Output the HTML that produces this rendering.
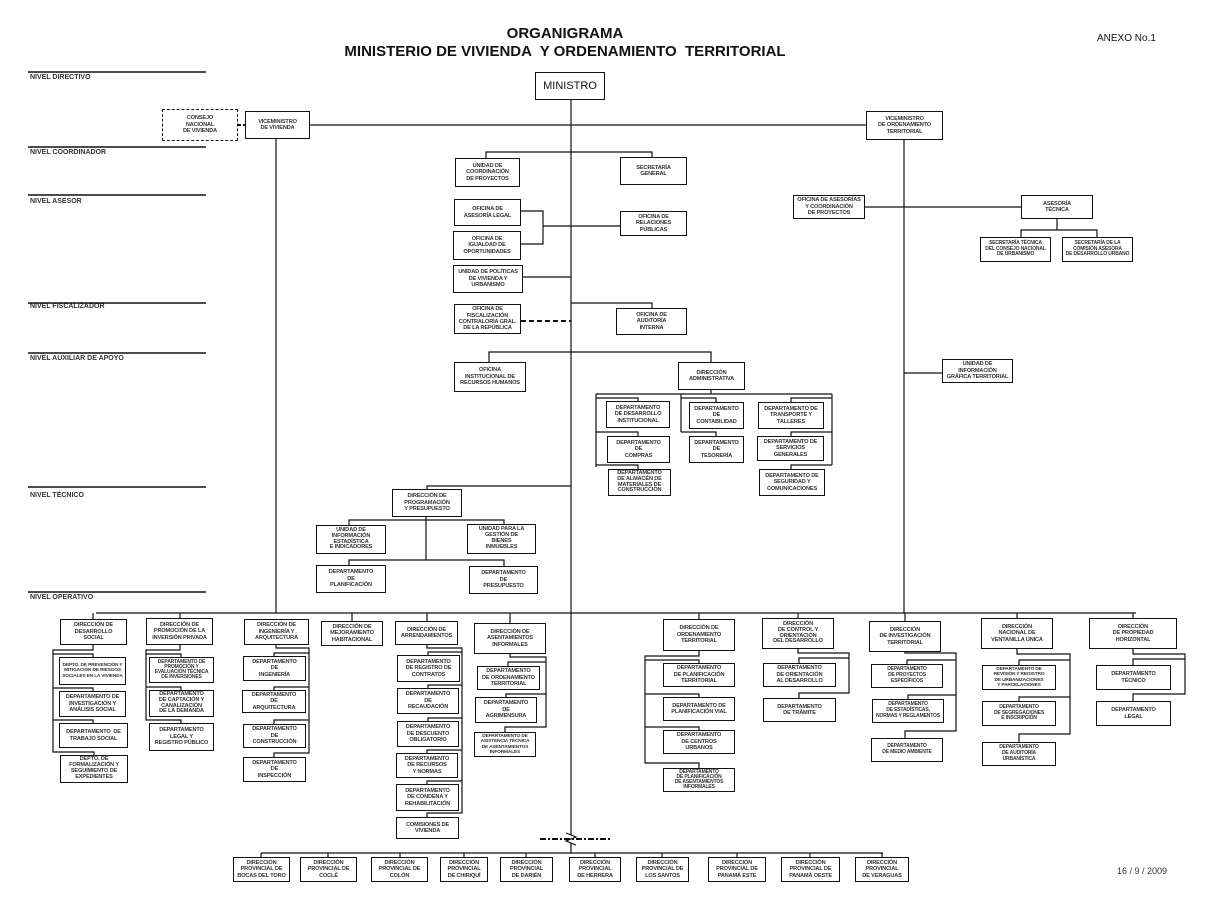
<!DOCTYPE html>
<html><head><meta charset="utf-8">
<style>
body{margin:0;width:1217px;height:904px;background:#fff;position:relative;overflow:hidden;font-family:"Liberation Sans",Arial,sans-serif;}
.b{position:absolute;box-sizing:border-box;border:1.3px solid #111;background:#fff;display:flex;align-items:center;justify-content:center;text-align:center;font-size:5.6px;line-height:1.15;color:#333;font-weight:bold;padding:0;z-index:2;letter-spacing:-0.15px;white-space:nowrap}
.d{border-style:dashed}
.t{position:absolute;font-weight:bold;color:#111}
.n{position:absolute;left:30px;font-size:7px;color:#333;font-weight:bold}
svg{position:absolute;left:0;top:0;z-index:1}
</style></head><body>
<div class="t" style="left:0;width:1130px;text-align:center;top:25px;font-size:15px">ORGANIGRAMA</div>
<div class="t" style="left:0;width:1130px;text-align:center;top:43px;font-size:15px">MINISTERIO DE VIVIENDA &nbsp;Y ORDENAMIENTO &nbsp;TERRITORIAL</div>
<div class="t" style="left:1097px;top:33px;font-size:10px;font-weight:normal">ANEXO No.1</div>
<div class="t" style="left:1117px;top:866px;font-size:9px;font-weight:normal;color:#333">16 / 9 / 2009</div>

<div class="n" style="top:74px">NIVEL DIRECTIVO</div>
<div class="n" style="top:149px">NIVEL COORDINADOR</div>
<div class="n" style="top:198px">NIVEL ASESOR</div>
<div class="n" style="top:303px">NIVEL FISCALIZADOR</div>
<div class="n" style="top:355px">NIVEL AUXILIAR DE APOYO</div>
<div class="n" style="top:492px">NIVEL TÉCNICO</div>
<div class="n" style="top:594px">NIVEL OPERATIVO</div>

<svg width="1217" height="904" fill="none" stroke="#111" stroke-width="1.2">
<path stroke-width="1.6" d="M28 72H206 M28 147H206 M28 195H206 M28 303H206 M28 353H206 M28 487H206 M28 592H206"/>
<path d="M571 99V853 M310 125H866 M276 139V613 M904 140V613"/>
<path stroke-width="2" stroke-dasharray="3,2" d="M238 125H245"/>
<path d="M486 158V152H652V157 M521 211H543V244H521 M543 226H620 M523 277H571 M571 303H652V308 M865 207H1021 M1057 219V230 M1021 237V230H1097V237 M904 373H942"/>
<path stroke-width="2" stroke-dasharray="5,3" d="M521 321H571"/>
<path d="M489 362V352H711V362 M711 390V394 M596 394H832 M596 394V467 M596 398H638V401 M596 432H638V436 M596 465H638V469 M681 394V432 M681 398H716V402 M681 432H716V436 M832 394V465 M832 398H791V402 M832 432H791V436 M832 465H791V469"/>
<path d="M427 489V486H571 M426 517V560 M349 525V520H504V524 M349 565V560H504V566"/>
<path d="M96 613H1136 M93 613V619 M180 613V618 M352 613V621 M427 613V621 M510 613V623 M699 613V619 M798 613V618 M905 613V621 M1017 613V618 M1133 613V618"/>
<path d="M93 645V650H53V752H94V755 M53 654H93V657 M53 688H93V691 M53 720H93V723"/>
<path d="M180 645V650H146V720H181V723 M146 654H181V657 M146 687H181V690"/>
<path d="M276 645V648H309V753H274V757 M309 653H274V656 M309 687H274V690 M309 720H274V724"/>
<path d="M427 645V648H462V813H427V817 M462 652H428V655 M462 685H428V688 M462 718H428V721 M462 750H427V753 M462 781H427V784"/>
<path d="M510 654V657H546V727H505V732 M546 662H508V666 M546 694H506V697"/>
<path d="M699 651V656H645V763H699V768 M645 660H699V663 M645 694H699V697 M645 727H699V730"/>
<path d="M798 649V653H849V693H799V698 M849 658H799V663"/>
<path d="M905 652V653H956V731H905V738 M956 660H907V664 M956 695H908V699"/>
<path d="M1017 649V654H1070V734H1019V742 M1070 660H1019V665 M1070 697H1019V701"/>
<path d="M1133 649V654H1185V694H1133V701 M1185 659H1133V665"/>
<path d="M261 853H883 M261 853V857 M328 853V857 M400 853V857 M464 853V857 M526 853V857 M595 853V857 M662 853V857 M737 853V857 M810 853V857 M882 853V857"/>
<path stroke-width="2" stroke-dasharray="6,2,2,2" d="M540 839H612"/>
<path fill="#fff" d="M566 833L576 837L566 841L576 845"/>
</svg>

<div class="b" style="left:535px;top:72px;width:70px;height:28px;font-size:11px;font-weight:normal;color:#111;letter-spacing:0">MINISTRO</div>
<div class="b d" style="left:162px;top:109px;width:76px;height:32px">CONSEJO<br>NACIONAL<br>DE VIVIENDA</div>
<div class="b" style="left:245px;top:111px;width:65px;height:28px">VICEMINISTRO<br>DE VIVIENDA</div>
<div class="b" style="left:866px;top:111px;width:77px;height:29px">VICEMINISTRO<br>DE ORDENAMIENTO<br>TERRITORIAL</div>

<div class="b" style="left:455px;top:158px;width:65px;height:29px">UNIDAD DE<br>COORDINACIÓN<br>DE PROYECTOS</div>
<div class="b" style="left:620px;top:157px;width:67px;height:28px">SECRETARÍA<br>GENERAL</div>
<div class="b" style="left:454px;top:199px;width:67px;height:27px">OFICINA DE<br>ASESORÍA LEGAL</div>
<div class="b" style="left:453px;top:231px;width:68px;height:29px">OFICINA DE<br>IGUALDAD DE<br>OPORTUNIDADES</div>
<div class="b" style="left:620px;top:211px;width:67px;height:25px">OFICINA DE<br>RELACIONES<br>PÚBLICAS</div>
<div class="b" style="left:453px;top:265px;width:70px;height:28px">UNIDAD DE POLÍTICAS<br>DE VIVIENDA Y<br>URBANISMO</div>
<div class="b" style="left:454px;top:304px;width:67px;height:30px">OFICINA DE<br>FISCALIZACIÓN<br>CONTRALORÍA GRAL.<br>DE LA REPÚBLICA</div>
<div class="b" style="left:616px;top:308px;width:71px;height:27px">OFICINA DE<br>AUDITORÍA<br>INTERNA</div>

<div class="b" style="left:793px;top:195px;width:72px;height:24px">OFICINA DE ASESORÍAS<br>Y COORDINACIÓN<br>DE PROYECTOS</div>
<div class="b" style="left:1021px;top:195px;width:72px;height:24px">ASESORÍA<br>TÉCNICA</div>
<div class="b" style="left:980px;top:237px;width:71px;height:25px;font-size:5px">SECRETARÍA TÉCNICA<br>DEL CONSEJO NACIONAL<br>DE URBANISMO</div>
<div class="b" style="left:1062px;top:237px;width:71px;height:25px;font-size:5px">SECRETARÍA DE LA<br>COMISIÓN ASESORA<br>DE DESARROLLO URBANO</div>
<div class="b" style="left:942px;top:359px;width:71px;height:24px">UNIDAD DE<br>INFORMACIÓN<br>GRÁFICA TERRITORIAL</div>

<div class="b" style="left:454px;top:362px;width:72px;height:30px">OFICINA<br>INSTITUCIONAL DE<br>RECURSOS HUMANOS</div>
<div class="b" style="left:678px;top:362px;width:67px;height:28px">DIRECCIÓN<br>ADMINISTRATIVA</div>
<div class="b" style="left:606px;top:401px;width:64px;height:27px">DEPARTAMENTO<br>DE DESARROLLO<br>INSTITUCIONAL</div>
<div class="b" style="left:607px;top:436px;width:63px;height:27px">DEPARTAMENTO<br>DE<br>COMPRAS</div>
<div class="b" style="left:608px;top:469px;width:63px;height:27px;line-height:1.05">DEPARTAMENTO<br>DE ALMACÉN DE<br>MATERIALES DE<br>CONSTRUCCIÓN</div>
<div class="b" style="left:689px;top:402px;width:55px;height:27px">DEPARTAMENTO<br>DE<br>CONTABILIDAD</div>
<div class="b" style="left:689px;top:436px;width:55px;height:27px">DEPARTAMENTO<br>DE<br>TESORERÍA</div>
<div class="b" style="left:758px;top:402px;width:66px;height:27px">DEPARTAMENTO DE<br>TRANSPORTE Y<br>TALLERES</div>
<div class="b" style="left:757px;top:436px;width:67px;height:25px">DEPARTAMENTO DE<br>SERVICIOS<br>GENERALES</div>
<div class="b" style="left:759px;top:469px;width:66px;height:27px">DEPARTAMENTO DE<br>SEGURIDAD Y<br>COMUNICACIONES</div>

<div class="b" style="left:392px;top:489px;width:70px;height:28px">DIRECCIÓN DE<br>PROGRAMACIÓN<br>Y PRESUPUESTO</div>
<div class="b" style="left:316px;top:525px;width:70px;height:29px;line-height:1.05">UNIDAD DE<br>INFORMACIÓN<br>ESTADÍSTICA<br>E INDICADORES</div>
<div class="b" style="left:467px;top:524px;width:69px;height:30px;line-height:1.05">UNIDAD PARA LA<br>GESTIÓN DE<br>BIENES<br>INMUEBLES</div>
<div class="b" style="left:316px;top:565px;width:70px;height:28px">DEPARTAMENTO<br>DE<br>PLANIFICACIÓN</div>
<div class="b" style="left:469px;top:566px;width:69px;height:28px">DEPARTAMENTO<br>DE<br>PRESUPUESTO</div>

<div class="b" style="left:60px;top:619px;width:67px;height:26px">DIRECCIÓN DE<br>DESARROLLO<br>SOCIAL</div>
<div class="b" style="left:146px;top:618px;width:67px;height:27px">DIRECCIÓN DE<br>PROMOCIÓN DE LA<br>INVERSIÓN PRIVADA</div>
<div class="b" style="left:244px;top:619px;width:65px;height:26px">DIRECCIÓN DE<br>INGENIERÍA Y<br>ARQUITECTURA</div>
<div class="b" style="left:321px;top:621px;width:62px;height:25px">DIRECCIÓN DE<br>MEJORAMIENTO<br>HABITACIONAL</div>
<div class="b" style="left:395px;top:621px;width:63px;height:24px">DIRECCIÓN DE<br>ARRENDAMIENTOS</div>
<div class="b" style="left:474px;top:623px;width:72px;height:31px">DIRECCIÓN DE<br>ASENTAMIENTOS<br>INFORMALES</div>

<div class="b" style="left:59px;top:657px;width:67px;height:28px;font-size:4.8px">DEPTO. DE PREVENCIÓN Y<br>MITIGACIÓN DE RIESGOS<br>SOCIALES EN LA VIVIENDA</div>
<div class="b" style="left:59px;top:691px;width:67px;height:26px">DEPARTAMENTO DE<br>INVESTIGACIÓN Y<br>ANÁLISIS SOCIAL</div>
<div class="b" style="left:59px;top:723px;width:69px;height:25px">DEPARTAMENTO &nbsp;DE<br>TRABAJO SOCIAL</div>
<div class="b" style="left:60px;top:755px;width:68px;height:28px;line-height:1.05">DEPTO. DE<br>FORMALIZACIÓN Y<br>SEGUIMIENTO DE<br>EXPEDIENTES</div>

<div class="b" style="left:149px;top:657px;width:65px;height:26px;font-size:5px;line-height:1.05">DEPARTAMENTO DE<br>PROMOCIÓN Y<br>EVALUACIÓN TÉCNICA<br>DE INVERSIONES</div>
<div class="b" style="left:149px;top:690px;width:65px;height:27px;line-height:1.05">DEPARTAMENTO<br>DE CAPTACIÓN Y<br>CANALIZACIÓN<br>DE LA DEMANDA</div>
<div class="b" style="left:149px;top:723px;width:65px;height:28px">DEPARTAMENTO<br>LEGAL Y<br>REGISTRO PÚBLICO</div>

<div class="b" style="left:243px;top:656px;width:63px;height:25px">DEPARTAMENTO<br>DE<br>INGENIERÍA</div>
<div class="b" style="left:242px;top:690px;width:64px;height:23px">DEPARTAMENTO<br>DE<br>ARQUITECTURA</div>
<div class="b" style="left:243px;top:724px;width:63px;height:24px">DEPARTAMENTO<br>DE<br>CONSTRUCCIÓN</div>
<div class="b" style="left:243px;top:757px;width:63px;height:25px">DEPARTAMENTO<br>DE<br>INSPECCIÓN</div>

<div class="b" style="left:397px;top:655px;width:63px;height:27px">DEPARTAMENTO<br>DE REGISTRO DE<br>CONTRATOS</div>
<div class="b" style="left:397px;top:688px;width:62px;height:26px">DEPARTAMENTO<br>DE<br>RECAUDACIÓN</div>
<div class="b" style="left:397px;top:721px;width:62px;height:26px">DEPARTAMENTO<br>DE DESCUENTO<br>OBLIGATORIO</div>
<div class="b" style="left:396px;top:753px;width:62px;height:25px">DEPARTAMENTO<br>DE RECURSOS<br>Y NORMAS</div>
<div class="b" style="left:396px;top:784px;width:63px;height:27px">DEPARTAMENTO<br>DE CONDENA Y<br>REHABILITACIÓN</div>
<div class="b" style="left:396px;top:817px;width:63px;height:22px">COMISIONES DE<br>VIVIENDA</div>

<div class="b" style="left:477px;top:666px;width:63px;height:24px">DEPARTAMENTO<br>DE ORDENAMIENTO<br>TERRITORIAL</div>
<div class="b" style="left:475px;top:697px;width:62px;height:26px">DEPARTAMENTO<br>DE<br>AGRIMENSURA</div>
<div class="b" style="left:474px;top:732px;width:62px;height:25px;font-size:4.8px;line-height:1.05">DEPARTAMENTO DE<br>ASISTENCIA TÉCNICA<br>DE ASENTAMIENTOS<br>INFORMALES</div>

<div class="b" style="left:663px;top:619px;width:72px;height:32px">DIRECCIÓN DE<br>ORDENAMIENTO<br>TERRITORIAL</div>
<div class="b" style="left:762px;top:618px;width:72px;height:31px;line-height:1.05">DIRECCIÓN<br>DE CONTROL Y<br>ORIENTACIÓN<br>DEL DESARROLLO</div>
<div class="b" style="left:869px;top:621px;width:72px;height:31px">DIRECCIÓN<br>DE INVESTIGACIÓN<br>TERRITORIAL</div>
<div class="b" style="left:981px;top:618px;width:72px;height:31px">DIRECCIÓN<br>NACIONAL DE<br>VENTANILLA ÚNICA</div>
<div class="b" style="left:1089px;top:618px;width:88px;height:31px">DIRECCIÓN<br>DE PROPIEDAD<br>HORIZONTAL</div>

<div class="b" style="left:663px;top:663px;width:72px;height:24px">DEPARTAMENTO<br>DE PLANIFICACIÓN<br>TERRITORIAL</div>
<div class="b" style="left:663px;top:697px;width:72px;height:24px">DEPARTAMENTO DE<br>PLANIFICACIÓN VIAL</div>
<div class="b" style="left:663px;top:730px;width:72px;height:24px">DEPARTAMENTO<br>DE CENTROS<br>URBANOS</div>
<div class="b" style="left:663px;top:768px;width:72px;height:24px;font-size:5px;line-height:1.05">DEPARTAMENTO<br>DE PLANIFICACIÓN<br>DE ASENTAMIENTOS<br>INFORMALES</div>
<div class="b" style="left:763px;top:663px;width:73px;height:24px">DEPARTAMENTO<br>DE ORIENTACIÓN<br>AL DESARROLLO</div>
<div class="b" style="left:763px;top:698px;width:73px;height:24px">DEPARTAMENTO<br>DE TRÁMITE</div>
<div class="b" style="left:871px;top:664px;width:72px;height:24px;font-size:5px">DEPARTAMENTO<br>DE PROYECTOS<br>ESPECÍFICOS</div>
<div class="b" style="left:872px;top:699px;width:72px;height:24px;font-size:5px">DEPARTAMENTO<br>DE ESTADÍSTICAS,<br>NORMAS Y REGLAMENTOS</div>
<div class="b" style="left:871px;top:738px;width:72px;height:24px;font-size:5px">DEPARTAMENTO<br>DE MEDIO AMBIENTE</div>
<div class="b" style="left:982px;top:665px;width:74px;height:25px;font-size:4.8px;line-height:1.05">DEPARTAMENTO DE<br>REVISIÓN Y REGISTRO<br>DE URBANIZACIONES<br>Y PARCELACIONES</div>
<div class="b" style="left:982px;top:701px;width:74px;height:25px;font-size:5px">DEPARTAMENTO<br>DE SEGREGACIONES<br>E INSCRIPCIÓN</div>
<div class="b" style="left:982px;top:742px;width:74px;height:24px;font-size:5px">DEPARTAMENTO<br>DE AUDITORÍA<br>URBANÍSTICA</div>
<div class="b" style="left:1096px;top:665px;width:75px;height:25px">DEPARTAMENTO<br>TÉCNICO</div>
<div class="b" style="left:1096px;top:701px;width:75px;height:25px">DEPARTAMENTO<br>LEGAL</div>

<div class="b" style="left:233px;top:857px;width:57px;height:25px">DIRECCIÓN<br>PROVINCIAL DE<br>BOCAS DEL TORO</div>
<div class="b" style="left:300px;top:857px;width:57px;height:25px">DIRECCIÓN<br>PROVINCIAL DE<br>COCLÉ</div>
<div class="b" style="left:371px;top:857px;width:57px;height:25px">DIRECCIÓN<br>PROVINCIAL DE<br>COLÓN</div>
<div class="b" style="left:440px;top:857px;width:48px;height:25px">DIRECCIÓN<br>PROVINCIAL<br>DE CHIRIQUÍ</div>
<div class="b" style="left:500px;top:857px;width:53px;height:25px">DIRECCIÓN<br>PROVINCIAL<br>DE DARIÉN</div>
<div class="b" style="left:569px;top:857px;width:52px;height:25px">DIRECCIÓN<br>PROVINCIAL<br>DE HERRERA</div>
<div class="b" style="left:636px;top:857px;width:53px;height:25px">DIRECCIÓN<br>PROVINCIAL DE<br>LOS SANTOS</div>
<div class="b" style="left:708px;top:857px;width:58px;height:25px">DIRECCIÓN<br>PROVINCIAL DE<br>PANAMÁ ESTE</div>
<div class="b" style="left:781px;top:857px;width:59px;height:25px">DIRECCIÓN<br>PROVINCIAL DE<br>PANAMÁ OESTE</div>
<div class="b" style="left:855px;top:857px;width:54px;height:25px">DIRECCIÓN<br>PROVINCIAL<br>DE VERAGUAS</div>
</body></html>
